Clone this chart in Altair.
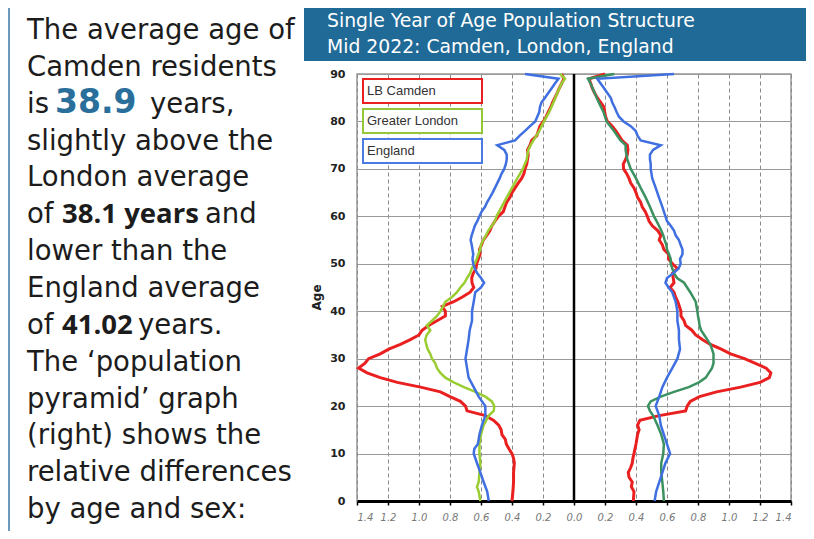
import altair as alt
import pandas as pd

# ---- data (percent of population by single year of age) ----
camden_m_age = [0, 2, 4, 6, 8] + list(range(9, 91))
camden_m = [0.40, 0.394, 0.39, 0.39, 0.385,
            0.39, 0.40, 0.42, 0.437, 0.443, 0.465, 0.47, 0.486, 0.518, 0.572,
            0.69, 0.70, 0.733, 0.80, 0.862, 0.99, 1.14, 1.25, 1.335, 1.39,
            1.35, 1.325, 1.25, 1.195, 1.12, 1.056, 1.00, 0.98, 0.938, 0.884,
            0.83, 0.83, 0.85, 0.776, 0.72, 0.67, 0.647, 0.658, 0.66, 0.65,
            0.632, 0.628, 0.617, 0.606, 0.61, 0.596, 0.585, 0.563, 0.542, 0.53,
            0.51, 0.488, 0.456, 0.445, 0.434, 0.413, 0.40, 0.38, 0.36, 0.338,
            0.323, 0.316, 0.305, 0.30, 0.295, 0.30, 0.284, 0.273, 0.24, 0.23,
            0.22, 0.198, 0.18, 0.166, 0.15, 0.138, 0.123, 0.108, 0.095, 0.08,
            0.065, 0.08]

london_m_age = [0, 2, 3, 4, 6, 8, 10, 12, 14, 16] + list(range(18, 61)) + \
    [62, 64, 66, 68, 70, 72, 74, 75, 76, 78, 80, 82, 84, 86, 88, 89, 90]
london_m = [0.604, 0.615, 0.626, 0.615, 0.61, 0.604, 0.61, 0.61, 0.60, 0.583,
            0.55, 0.518, 0.514, 0.53, 0.572, 0.636, 0.71, 0.776, 0.83, 0.862,
            0.884, 0.895, 0.916, 0.927, 0.944, 0.953, 0.96, 0.95, 0.927, 0.95,
            0.916, 0.884, 0.862, 0.845, 0.83, 0.787, 0.755, 0.733, 0.707, 0.69,
            0.67, 0.66, 0.64, 0.628, 0.617, 0.606, 0.60, 0.585, 0.568, 0.553,
            0.53, 0.51, 0.50,
            0.467, 0.434, 0.40, 0.366, 0.33, 0.305, 0.295, 0.28, 0.262, 0.224,
            0.194, 0.16, 0.133, 0.108, 0.08, 0.058, 0.09]

england_m_age = [0, 2, 4, 6, 8, 10, 11, 12, 14, 16, 18, 20, 22, 24, 26, 28, 30,
                 32, 34, 36, 38, 40, 42, 44] + list(range(45, 91))
england_m = [0.55, 0.56, 0.583, 0.604, 0.626, 0.647, 0.643, 0.62, 0.61, 0.594,
             0.572, 0.572, 0.615, 0.647, 0.68, 0.69, 0.70, 0.69, 0.68, 0.673,
             0.658, 0.658, 0.647, 0.637,
             0.60, 0.58, 0.60, 0.624, 0.64, 0.65, 0.655, 0.65, 0.655, 0.66,
             0.667, 0.66, 0.65, 0.64, 0.624, 0.61, 0.596, 0.574, 0.56, 0.542,
             0.525, 0.51, 0.495, 0.48, 0.467, 0.45, 0.44, 0.434, 0.434, 0.45,
             0.495, 0.38, 0.35, 0.316, 0.284, 0.25, 0.237, 0.224, 0.22, 0.21,
             0.187, 0.166, 0.144, 0.123, 0.10, 0.316]

camden_f_age = [0, 2, 3, 4, 5, 6, 7, 8, 9, 10, 12, 14, 15, 16, 17] + list(range(18, 91))
camden_f = [0.383, 0.387, 0.37, 0.376, 0.355, 0.35, 0.365, 0.376, 0.38, 0.387,
            0.40, 0.41, 0.42, 0.41, 0.425,
            0.55, 0.72, 0.73, 0.75, 0.81, 0.92, 1.075, 1.20, 1.26, 1.27,
            1.24, 1.17, 1.10, 1.01, 0.95, 0.88, 0.83, 0.785, 0.76, 0.72,
            0.71, 0.69, 0.69, 0.68, 0.67, 0.655, 0.645, 0.62, 0.645, 0.64,
            0.635, 0.667, 0.635, 0.61, 0.61, 0.58, 0.57, 0.55, 0.56, 0.54,
            0.505, 0.484, 0.473, 0.46, 0.44, 0.43, 0.41, 0.40, 0.387, 0.366,
            0.355, 0.34, 0.32, 0.318, 0.333, 0.344, 0.348, 0.344, 0.31, 0.29,
            0.27, 0.247, 0.215, 0.204, 0.198, 0.194, 0.172, 0.15, 0.133, 0.118,
            0.108, 0.097, 0.20]

london_f_age = [0, 2, 4, 6, 8, 10, 12, 14, 16] + list(range(18, 41)) + [42] + \
    list(range(44, 61)) + [62, 64, 66, 68, 70, 72, 74, 75, 76, 78, 80, 82, 84, 86, 88, 89, 90]
london_f = [0.58, 0.576, 0.57, 0.563, 0.563, 0.576, 0.58, 0.563, 0.538,
            0.51, 0.49, 0.477, 0.495, 0.56, 0.645, 0.74, 0.806, 0.85, 0.87,
            0.89, 0.90, 0.90, 0.90, 0.89, 0.88, 0.86, 0.84, 0.82, 0.81,
            0.806, 0.80, 0.796,
            0.785,
            0.75, 0.73, 0.71, 0.665, 0.645, 0.634, 0.624, 0.624, 0.613, 0.60,
            0.596, 0.585, 0.576, 0.563, 0.548, 0.533, 0.516,
            0.49, 0.462, 0.43, 0.40, 0.366, 0.344, 0.333, 0.333, 0.30, 0.258,
            0.21, 0.19, 0.16, 0.133, 0.107, 0.09, 0.26]

england_f_age = [0, 2, 4, 6, 8, 10, 11, 12, 14, 16, 18, 20, 22, 24, 26, 28, 30,
                 32, 34, 36, 38, 40, 42, 44] + list(range(45, 61)) + [62, 64, 66, 68] + \
    list(range(70, 91))
england_f = [0.52, 0.53, 0.55, 0.57, 0.59, 0.62, 0.61, 0.60, 0.58, 0.56,
             0.55, 0.527, 0.55, 0.57, 0.60, 0.634, 0.667, 0.684, 0.677, 0.677,
             0.667, 0.667, 0.656, 0.634,
             0.61, 0.59, 0.60, 0.64, 0.675, 0.688, 0.684, 0.70, 0.70, 0.688,
             0.677, 0.656, 0.645, 0.624, 0.60, 0.59,
             0.57, 0.548, 0.527, 0.505,
             0.495, 0.495, 0.49, 0.49, 0.51, 0.56, 0.43, 0.41, 0.398, 0.366,
             0.32, 0.29, 0.275, 0.262, 0.247, 0.237, 0.215, 0.194, 0.172, 0.15,
             0.645]

series_keys = ["Camden M", "Camden F", "London M", "London F", "England M", "England F"]
series_colors = ["#ea1f1f", "#ea1f1f", "#9acd32", "#3b9160", "#3f6fe0", "#3f6fe0"]
legend_labels = ["LB Camden", "Greater London", "England"]
legend_colors = ["#ea1f1f", "#94c83a", "#4a7be0"]
x_ticks = [-1.4, -1.2, -1.0, -0.8, -0.6, -0.4, -0.2, 0.0, 0.2, 0.4, 0.6, 0.8, 1.0, 1.2, 1.4]
y_ticks = [0, 10, 20, 30, 40, 50, 60, 70, 80, 90]

rows = []
for key, ages, vals in [("Camden M", camden_m_age, camden_m), ("London M", london_m_age, london_m),
                        ("England M", england_m_age, england_m), ("Camden F", camden_f_age, camden_f),
                        ("London F", london_f_age, london_f), ("England F", england_f_age, england_f)]:
    assert len(ages) == len(vals), key
    sign = -1 if key.endswith("M") else 1
    for a, v in zip(ages, vals):
        rows.append({"key": key, "group": key.split()[0], "age": a, "value": sign * v})
df = pd.DataFrame(rows)

X = alt.X("value:Q",
          scale=alt.Scale(domain=[-1.4, 1.4], nice=False, zero=False),
          axis=alt.Axis(values=x_ticks, tickCount=30,
                        labelExpr="format(abs(datum.value), '.1f')",
                        labelOverlap=False,
                        title=None, grid=True, gridDash=[4, 3], gridColor="#8a8a8a",
                        gridWidth=1, domainColor="black", domainWidth=3,
                        tickColor="black", tickSize=4, tickWidth=1.5,
                        labelFont="DejaVu Sans", labelFontStyle="italic",
                        labelFontSize=10, labelColor="#777", labelPadding=7))
Y = alt.Y("age:Q",
          scale=alt.Scale(domain=[0, 90], nice=False),
          axis=alt.Axis(values=y_ticks, tickCount=20, title="Age", titleFont="DejaVu Sans",
                        titleFontSize=12, titleFontWeight="bold", titleColor="#222",
                        titleY=223, titlePadding=6,
                        grid=True, gridColor="#999", gridWidth=1,
                        domain=False, ticks=False, labelPadding=12,
                        labelFont="DejaVu Sans", labelFontWeight="bold",
                        labelFontSize=11, labelColor="#222"))
C = alt.Color("key:N", scale=alt.Scale(domain=series_keys, range=series_colors), legend=None)

base = alt.Chart(df)
red = base.transform_filter(alt.datum.group == "Camden").mark_line(strokeWidth=3).encode(
    x=X, y=Y, color=C, detail="key:N", order="age:Q")
green = base.transform_filter(alt.datum.group == "London").mark_line(strokeWidth=2.5).encode(
    x=X, y=Y, color=C, detail="key:N", order="age:Q")
blue = base.transform_filter(alt.datum.group == "England").mark_line(strokeWidth=2.5).encode(
    x=X, y=Y, color=C, detail="key:N", order="age:Q")

one = alt.Data(values=[{}])
center = alt.Chart(one).mark_rule(color="black", strokeWidth=2.5).encode(x=alt.datum(0))


def txt(text, x, y, size=27.5, weight="normal", color="#1c1c1c", font="DejaVu Sans",
        align="left", baseline="alphabetic"):
    return alt.Chart(one).mark_text(text=text, fontSize=size, fontWeight=weight, color=color,
                                    font=font, align=align, baseline=baseline).encode(
        x=alt.value(x), y=alt.value(y))


def box(x1, x2, y1, y2, stroke, fill="white", sw=2):
    return alt.Chart(one).mark_rect(fill=fill, stroke=stroke, strokeWidth=sw).encode(
        x=alt.value(x1), x2=alt.value(x2), y=alt.value(y1), y2=alt.value(y2))


layers = [red, green, blue, center]

# legend boxes inside the plot
for i, (lab, col) in enumerate(zip(legend_labels, legend_colors)):
    layers.append(box(6, 125, 5 + 30 * i, 29 + 30 * i, col))
    layers.append(txt(lab, 10, 17 + 30 * i, size=13, font="Liberation Sans", color="#333",
                      baseline="middle"))

# banner title
layers.append(alt.Chart(one).mark_rect(color="#1f6a96").encode(
    x=alt.value(-53), x2=alt.value(456), y=alt.value(-66), y2=alt.value(-13)))
layers.append(txt("Single Year of Age Population Structure", -30, -47, size=18.8, color="white"))
layers.append(txt("Mid 2022: Camden, London, England", -30, -21, size=18.8, color="white"))

# thin vertical rule at far left
layers.append(alt.Chart(one).mark_rule(color="#3a78a8", strokeWidth=1.5).encode(
    x=alt.value(-348), y=alt.value(-66), y2=alt.value(457)))

# paragraph
lx = -330
step = 36.85
b0 = -35
plain_lines = {0: "The average age of", 1: "Camden residents", 3: "slightly above the",
               4: "London average", 6: "lower than the", 7: "England average",
               9: "The \u2018population", 10: "pyramid\u2019 graph", 11: "(right) shows the",
               12: "relative differences", 13: "by age and sex:"}
for i, t in plain_lines.items():
    layers.append(txt(t, lx, b0 + step * i))
yb = b0 + step * 2
layers += [txt("is", lx, yb), txt("38.9", -302, yb, size=33, weight="bold", color="#2a6f9b"),
           txt("years,", -207, yb)]
yb = b0 + step * 5
layers += [txt("of", lx, yb), txt("38.1 years", -295, yb, size=27.5, weight="bold", font="Open Sans"),
           txt("and", -152, yb)]
yb = b0 + step * 8
layers += [txt("of", lx, yb), txt("41.02", -295, yb, size=27.5, weight="bold", font="Open Sans"),
           txt("years.", -219, yb)]

chart = alt.layer(*layers).properties(
    width=434, height=427,
    padding={"left": 349, "top": 66, "right": 15, "bottom": 30},
    autosize=alt.AutoSizeParams(type="none"),
    background="white",
).configure_view(stroke="#999", strokeWidth=1.5)

chart.save("out.html", embed_options={"renderer": "svg", "actions": False})
